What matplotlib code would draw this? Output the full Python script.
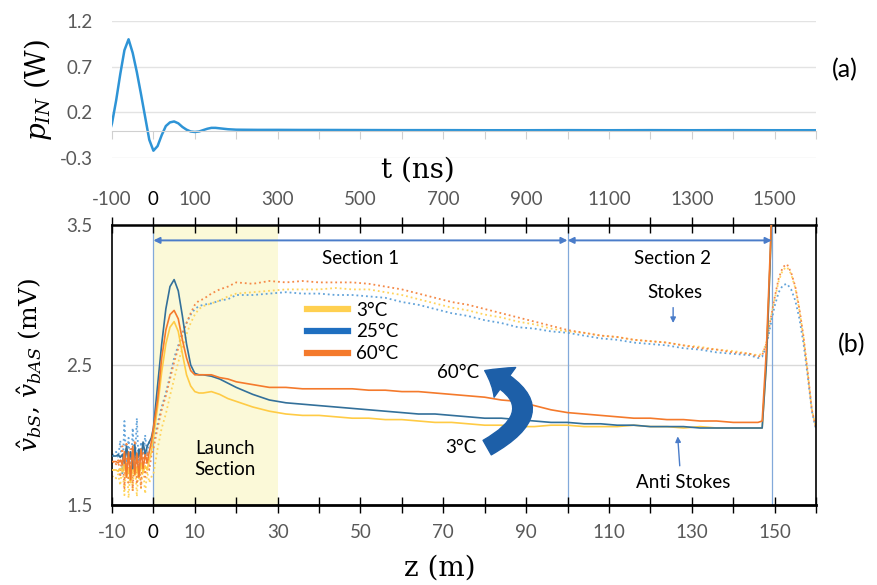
import matplotlib.pyplot as plt
from matplotlib.lines import Line2D
from matplotlib.patches import FancyArrowPatch

plt.rcParams['font.family'] = ['Lato', 'DejaVu Sans']
plt.rcParams['mathtext.fontset'] = 'dejavuserif'

nan = float('nan')

# ---- panel (a): input pulse ----
t_ns = [-105, -100, -90, -80, -70, -60, -50, -40, -30, -20,
        -10, 0, 10, 20, 30, 40, 50, 60, 70, 80,
        90, 100, 110, 120, 130, 140, 150, 160, 180, 200,
        250, 300, 350, 400, 500, 600, 700, 800, 900, 1000,
        1100, 1200, 1300, 1400, 1500, 1600]
p_in = [0.0, 0.08, 0.33, 0.62, 0.88, 1.0, 0.85, 0.64, 0.40, 0.15,
        -0.10, -0.22, -0.17, -0.05, 0.05, 0.09, 0.10, 0.08, 0.04, 0.01,
        -0.01, -0.015, -0.01, 0.005, 0.02, 0.03, 0.03, 0.025, 0.015, 0.01,
        0.008, 0.008, 0.007, 0.007, 0.006, 0.005, 0.005, 0.004, 0.004, 0.005,
        0.004, 0.005, 0.004, 0.005, 0.004, 0.004]

# ---- panel (b): backscattered traces ----
z_m = [-10, -9.5, -9, -8.5, -8, -7.5, -7, -6.5, -6, -5.5,
       -5, -4.5, -4, -3.5, -3, -2.5, -2, -1.5, -1, -0.5,
       0, 1, 2, 3, 4, 5, 6, 7, 8, 9, 10, 11,
       12, 14, 16, 18, 20, 24, 28, 32, 36, 40, 44, 48, 52, 56, 60, 64, 68, 72,
       76, 80, 84, 88, 92, 96, 100, 104, 108, 112, 116, 120, 124, 128, 132, 136, 140, 144,
       146, 147, 148, 149, 150, 151, 152, 153, 154, 155, 156, 157, 158, 159, 160]

# anti-Stokes (solid)
as_3 = [1.75, 1.75, 1.75, 1.74, 1.76, 1.74, 1.79, 1.70, 1.76, 1.66,
        1.79, 1.71, 1.77, 1.69, 1.80, 1.73, 1.78, 1.75, 1.82, 1.88,
        1.98, 2.20, 2.45, 2.65, 2.77, 2.81, 2.74, 2.58, 2.43, 2.35, 2.31, 2.30,
        2.30, 2.31, 2.29, 2.26, 2.24, 2.20, 2.17, 2.15, 2.14, 2.14, 2.13, 2.12,
        2.12, 2.11, 2.11, 2.10, 2.09, 2.09, 2.08, 2.07, 2.07, 2.06, 2.06, 2.07,
        2.07, 2.06, 2.06, 2.06, 2.07, 2.06, 2.06, 2.05, 2.06, 2.05, 2.05, 2.05,
        2.05, 2.05, 2.50, 3.30, 4.20, nan, nan, nan, nan, nan, nan, nan, nan, nan, nan]
as_25 = [1.85, 1.85, 1.85, 1.86, 1.84, 1.86, 1.80, 1.92, 1.82, 1.88,
         1.76, 1.93, 1.80, 1.90, 1.83, 1.95, 1.86, 1.92, 1.95, 1.98,
         2.05, 2.35, 2.65, 2.90, 3.06, 3.11, 3.03, 2.85, 2.65, 2.50, 2.44, 2.43,
         2.43, 2.42, 2.40, 2.37, 2.34, 2.29, 2.25, 2.23, 2.22, 2.21, 2.20, 2.19,
         2.18, 2.17, 2.16, 2.15, 2.15, 2.14, 2.13, 2.12, 2.12, 2.11, 2.10, 2.09,
         2.09, 2.08, 2.08, 2.07, 2.07, 2.06, 2.06, 2.06, 2.05, 2.05, 2.05, 2.05,
         2.05, 2.05, 2.50, 3.30, 4.20, nan, nan, nan, nan, nan, nan, nan, nan, nan, nan]
as_60 = [1.81, 1.81, 1.81, 1.80, 1.82, 1.79, 1.88, 1.70, 1.88, 1.68,
         1.92, 1.72, 1.87, 1.70, 1.90, 1.76, 1.86, 1.80, 1.88, 1.95,
         2.05, 2.25, 2.55, 2.75, 2.86, 2.89, 2.83, 2.68, 2.55, 2.46, 2.43, 2.43,
         2.43, 2.43, 2.41, 2.40, 2.38, 2.36, 2.34, 2.34, 2.33, 2.33, 2.33, 2.33,
         2.32, 2.32, 2.31, 2.31, 2.30, 2.29, 2.28, 2.27, 2.25, 2.24, 2.21, 2.18,
         2.16, 2.15, 2.14, 2.13, 2.12, 2.12, 2.11, 2.11, 2.10, 2.10, 2.09, 2.09,
         2.09, 2.10, 2.60, 3.35, 4.20, nan, nan, nan, nan, nan, nan, nan, nan, nan, nan]

# Stokes (dotted)
st_3 = [1.70, 1.71, 1.69, 1.72, 1.64, 1.80, 1.57, 1.84, 1.55, 1.78,
        1.60, 1.86, 1.56, 1.80, 1.62, 1.78, 1.58, 1.74, 1.66, 1.70,
        1.72, 1.90, 2.05, 2.15, 2.28, 2.40, 2.52, 2.62, 2.72, 2.80, 2.86, 2.90,
        2.92, 2.94, 2.96, 2.99, 3.01, 3.02, 3.03, 3.04, 3.04, 3.04, 3.05, 3.04,
        3.04, 3.02, 3.00, 2.97, 2.94, 2.91, 2.89, 2.86, 2.84, 2.81, 2.79, 2.76,
        2.74, 2.73, 2.71, 2.70, 2.68, 2.67, 2.66, 2.64, 2.63, 2.61, 2.60, 2.58,
        2.57, 2.58, 2.66, 2.82, 2.97, 3.10, 3.18, 3.20, 3.15, 3.05, 2.89, 2.69, 2.44, 2.18, 2.05]
st_25 = [1.86, 1.86, 1.88, 1.84, 1.96, 1.72, 2.10, 1.75, 1.98, 1.70,
         2.05, 1.78, 2.12, 1.74, 1.95, 1.80, 2.00, 1.85, 1.95, 1.92,
         1.95, 2.08, 2.20, 2.30, 2.42, 2.55, 2.64, 2.73, 2.80, 2.86, 2.90, 2.92,
         2.93, 2.94, 2.96, 2.97, 3.00, 3.00, 3.01, 3.02, 3.01, 3.01, 3.00, 3.00,
         2.99, 2.98, 2.95, 2.93, 2.90, 2.87, 2.85, 2.82, 2.80, 2.77, 2.76, 2.74,
         2.73, 2.71, 2.69, 2.68, 2.66, 2.65, 2.64, 2.62, 2.61, 2.59, 2.58, 2.57,
         2.55, 2.56, 2.63, 2.78, 2.92, 3.02, 3.07, 3.08, 3.04, 2.96, 2.83, 2.65, 2.42, 2.17, 2.04]
st_60 = [1.80, 1.81, 1.79, 1.82, 1.70, 1.92, 1.62, 1.95, 1.66, 1.90,
         1.60, 1.96, 1.65, 1.88, 1.62, 1.92, 1.70, 1.88, 1.75, 1.85,
         1.90, 2.05, 2.18, 2.28, 2.40, 2.52, 2.62, 2.72, 2.80, 2.87, 2.93, 2.96,
         2.97, 3.01, 3.04, 3.06, 3.09, 3.08, 3.10, 3.09, 3.10, 3.09, 3.09, 3.09,
         3.08, 3.06, 3.04, 3.01, 2.98, 2.95, 2.93, 2.90, 2.87, 2.84, 2.81, 2.78,
         2.75, 2.73, 2.71, 2.70, 2.68, 2.67, 2.66, 2.64, 2.62, 2.61, 2.59, 2.58,
         2.56, 2.57, 2.65, 2.82, 2.98, 3.12, 3.20, 3.22, 3.16, 3.06, 2.90, 2.70, 2.45, 2.18, 2.05]

temps = ['3°C', '25°C', '60°C']
solid_colors = ['#ffcb45', '#33709a', '#f47a2c']
dot_colors = ['#ffd45c', '#62a3da', '#f58a48']
legend_colors = ['#ffd050', '#1f6fc0', '#f47a2c']

section_bounds = [0, 100, 149.3]
launch_end = 30

GRAY = '#595959'
SERIF = 'DejaVu Serif'

fig = plt.figure(figsize=(8.78, 5.85), dpi=100)

# ---------- top panel ----------
axa = fig.add_axes([112/878, 1-158/585, 704/878, 137/585])
axa.plot(t_ns, p_in, color='#2e94d6', lw=1.8)
axa.set_xlim(-100, 1600)
axa.set_ylim(-0.3, 1.2)
axa.set_yticks([1.2, 0.7, 0.2, -0.3])
axa.set_yticklabels(['1.2', '0.7', '0.2', '-0.3'])
axa.set_xticks(range(-100, 1601, 100))
axa.tick_params(axis='y', length=0, pad=14, labelsize=13.5, labelcolor=GRAY)
axa.tick_params(axis='x', direction='out', length=6, color='#d0d0d0', labelbottom=False)
axa.grid(axis='y', color='#e3e3e3', lw=1)
for s in ['top', 'right', 'left']:
    axa.spines[s].set_visible(False)
axa.spines['bottom'].set_position(('data', 0))
axa.spines['bottom'].set_color('#d0d0d0')

# ---------- bottom panel ----------
ax = fig.add_axes([112/878, 1-505/585, 704/878, 280/585])
ax.axvspan(0, launch_end, color='#fbf9d8', zorder=0, lw=0)
ax.axhline(2.5, color='#d9d9d9', lw=1, zorder=0.5)
for xb in section_bounds:
    ax.axvline(xb, color='#82a9da', lw=0.9, zorder=1)

for st, c in zip([st_3, st_25, st_60], dot_colors):
    ax.plot(z_m, st, color=c, lw=1.3, ls=':', zorder=2)
for an, c in zip([as_3, as_25, as_60], solid_colors):
    ax.plot(z_m, an, color=c, lw=1.2, zorder=3)

ax.set_xlim(-10, 160)
ax.set_ylim(1.5, 3.5)
ax.set_yticks([3.5, 2.5, 1.5])
ax.tick_params(axis='y', length=0, pad=14, labelsize=13.5, labelcolor=GRAY)
zt = list(range(-10, 161, 10))
zl = ['-10', '0', '10', '', '30', '', '50', '', '70', '', '90', '', '110', '', '130', '', '150', '']
ax.set_xticks(zt, zl)
ax.tick_params(axis='x', direction='inout', length=12, width=1, color='black',
               labelsize=13.5, labelcolor=GRAY, pad=8)
for lbl in ax.get_xticklabels():
    if lbl.get_text() == '0':
        lbl.set_color('black')
for s in ax.spines.values():
    s.set_color('black')
    s.set_linewidth(1.2)
ax.spines['bottom'].set_linewidth(2)
ax.spines['top'].set_linewidth(1.8)

axt = ax.twiny()
axt.set_xlim(-100, 1600)
tt = list(range(-100, 1601, 100))
tl = ['-100', '0', '100', '', '300', '', '500', '', '700', '', '900', '', '1100', '', '1300', '', '1500', '']
axt.set_xticks(tt, tl)
axt.tick_params(axis='x', direction='inout', length=12, width=1, color='black',
                labelsize=13.5, labelcolor=GRAY, pad=6)
for lbl in axt.get_xticklabels():
    if lbl.get_text() == '0':
        lbl.set_color('black')
for s in axt.spines.values():
    s.set_visible(False)

# section arrows
arr = dict(arrowstyle='<|-|>', color='#4a7cc9', lw=1.4, shrinkA=0, shrinkB=0, mutation_scale=9)
ax.annotate('', xy=(section_bounds[1], 3.39), xytext=(section_bounds[0], 3.39), arrowprops=arr)
ax.annotate('', xy=(section_bounds[2], 3.39), xytext=(section_bounds[1], 3.39), arrowprops=arr)
ax.text(50, 3.26, 'Section 1', ha='center', va='center', fontsize=13.5)
ax.text(125.3, 3.26, 'Section 2', ha='center', va='center', fontsize=13.5)
ax.text(126, 3.02, 'Stokes', ha='center', va='center', fontsize=13.5)
ax.text(128, 1.66, 'Anti Stokes', ha='center', va='center', fontsize=13.5)
ax.text(10, 1.83, 'Launch\nSection', ha='left', va='center', fontsize=13.5, linespacing=1.3)
small = dict(arrowstyle='-|>', color='#4a7cc9', lw=1, shrinkA=0, shrinkB=0, mutation_scale=8)
ax.annotate('', xy=(125.5, 2.80), xytext=(125.5, 2.91), arrowprops=small)
ax.annotate('', xy=(126.6, 1.99), xytext=(127.1, 1.78), arrowprops=small)

ax.text(73.5, 2.45, '60°C', ha='center', va='center', fontsize=13.5)
ax.text(74.3, 1.91, '3°C', ha='center', va='center', fontsize=13.5)
big = FancyArrowPatch((80.6, 1.91), (80.0, 2.46),
                      connectionstyle='arc3,rad=0.95',
                      arrowstyle='simple,head_width=2.2,head_length=1.4,tail_width=1.0',
                      mutation_scale=12, color='#1d5fa8', zorder=5, shrinkA=0, shrinkB=0)
ax.add_patch(big)

handles = [Line2D([], [], color=c, lw=4.5) for c in legend_colors]
ax.legend(handles, temps, loc='upper left', bbox_to_anchor=(0.277, 0.726), frameon=False,
          borderpad=0, borderaxespad=0, handlelength=2.2, handletextpad=0.4,
          labelspacing=0.25, fontsize=13.5)

# labels
fig.text(418/878, 1-170/585, 't (ns)', ha='center', va='center', fontsize=20, family=SERIF)
fig.text(440/878, 1-568/585, 'z (m)', ha='center', va='center', fontsize=20, family=SERIF)
fig.text(38/878, 1-90/585, r'$p_{IN}$ (W)', ha='center', va='center', rotation=90,
         fontsize=20, family=SERIF)
fig.text(30/878, 1-365/585, r'$\hat{v}_{bS}$, $\hat{v}_{bAS}$ (mV)', ha='center', va='center',
         rotation=90, fontsize=18, family=SERIF)
fig.text(845/878, 1-70/585, '(a)', ha='center', va='center', fontsize=18)
fig.text(852/878, 1-345/585, '(b)', ha='center', va='center', fontsize=18)

fig.savefig('out.png', dpi=100)
